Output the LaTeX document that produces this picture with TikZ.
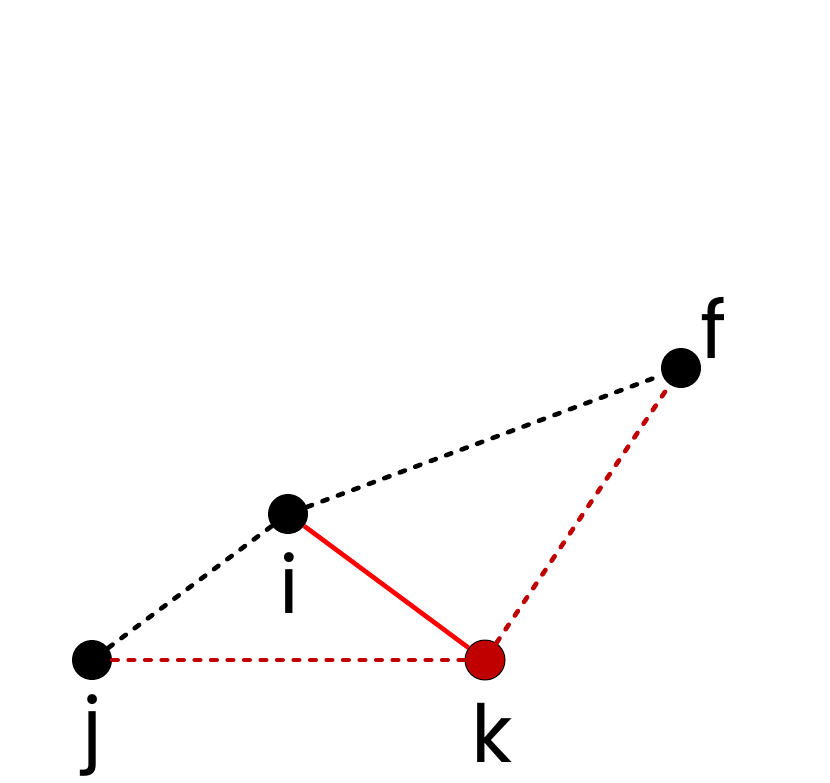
\documentclass[tikz,border=0pt]{standalone}
\usepackage{fontspec}
\setmainfont{Poppins}
\usepackage{xcolor}
\usepackage{tikz}
\usetikzlibrary{positioning}
\definecolor{darkred}{HTML}{C00000}
\tikzset{
  vertex/.style={circle, fill=black, minimum size=40pt, inner sep=0pt},
  redvertex/.style={circle, fill=darkred, draw=black, line width=1pt, minimum size=40pt, inner sep=0pt},
  lbl/.style={font=\fontsize{80}{88}\selectfont, inner sep=0pt},
  dotted edge/.style={line width=4.6pt, line cap=round, dash pattern=on 5.5pt off 11pt},
  solid edge/.style={line width=4.6pt, red}
}
\begin{document}
\begin{tikzpicture}[x=1pt, y=-1pt]
  \useasboundingbox (0,0) rectangle (830,782);
  \node[vertex] (f) at (681,368) {};
  \node[vertex] (i) at (288,514) {};
  \node[vertex] (j) at (92,660) {};
  \node[redvertex] (k) at (485,660) {};
  \node[lbl, anchor=base] (lf) at (714,358) {f};
  \node[lbl, anchor=base] (li) at (289,613) {i};
  \node[lbl, anchor=base] (lj) at (92,755) {j};
  \node[lbl, anchor=base] (lk) at (492,762) {k};
  \draw[dotted edge] (j) -- (i);
  \draw[dotted edge] (i) -- (f);
  \draw[dotted edge, darkred] (j) -- (k);
  \draw[dotted edge, darkred] (k) -- (f);
  \draw[solid edge] (i) -- (k);
\end{tikzpicture}
\end{document}
